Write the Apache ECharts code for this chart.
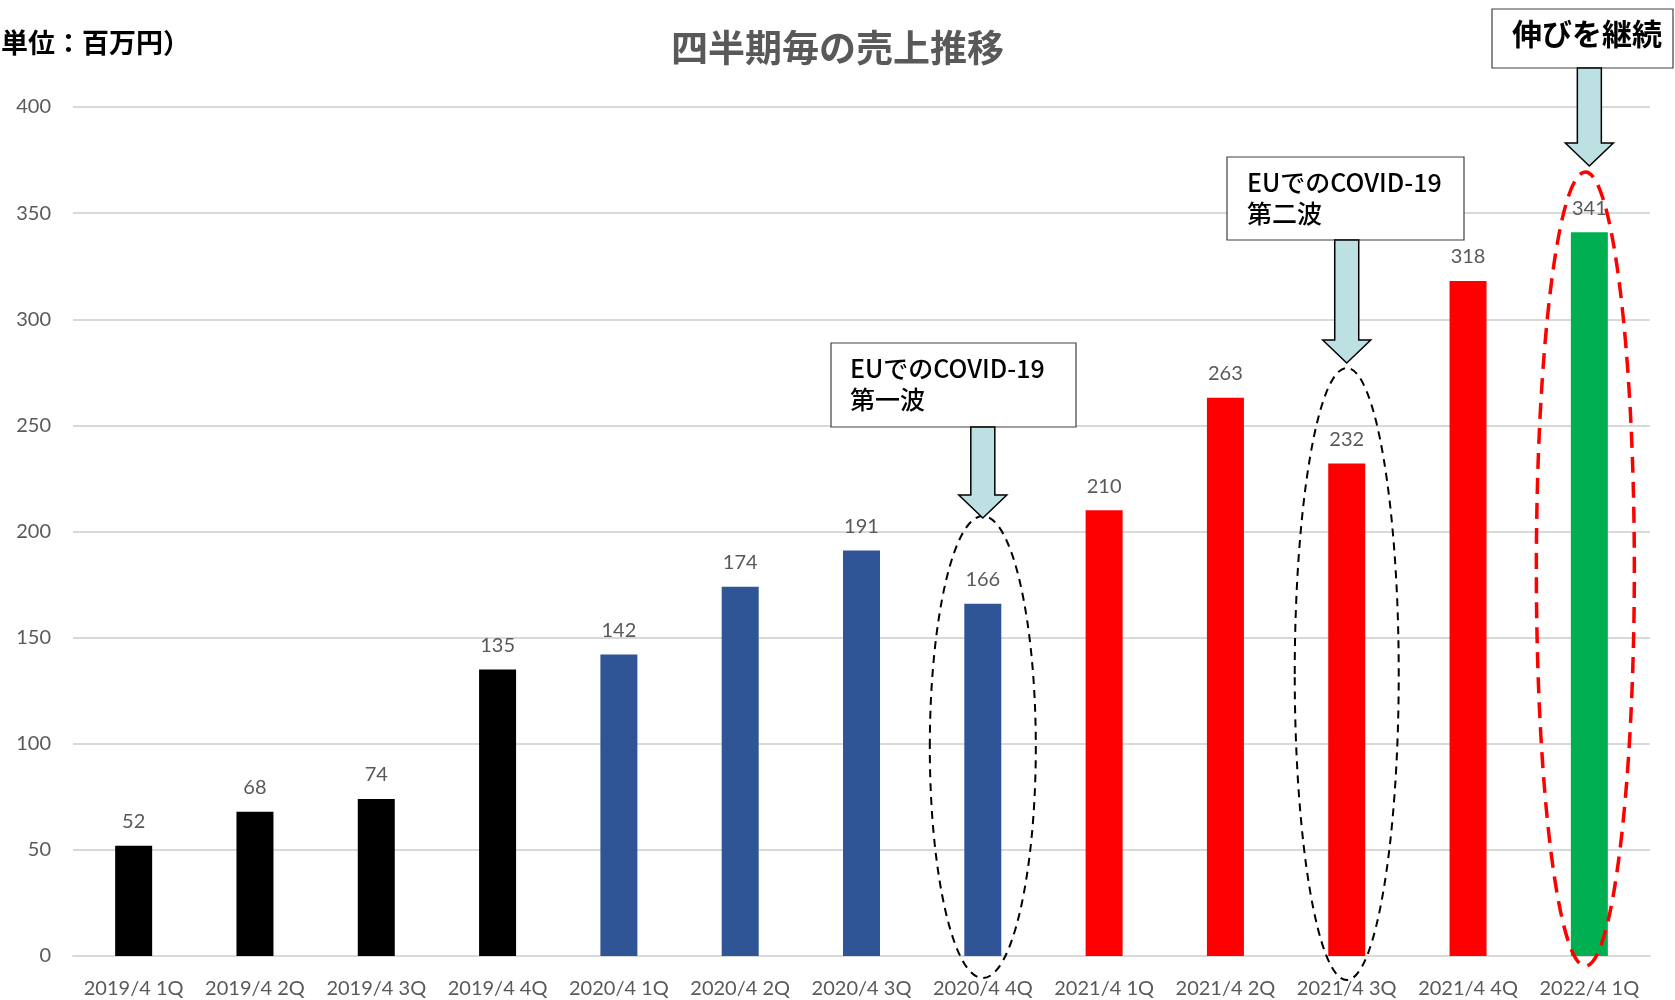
<!DOCTYPE html>
<html>
<head>
<meta charset="utf-8">
<script src="https://cdn.jsdelivr.net/npm/echarts@6/dist/echarts.min.js"></script>
<style>
  html, body { margin: 0; padding: 0; background: #ffffff; }
  #chart { width: 1675px; height: 1000px; }
</style>
</head>
<body>
<div id="chart"></div>
<script>
// Quarterly sales (million yen)
const categories = [
  '2019/4 1Q', '2019/4 2Q', '2019/4 3Q', '2019/4 4Q',
  '2020/4 1Q', '2020/4 2Q', '2020/4 3Q', '2020/4 4Q',
  '2021/4 1Q', '2021/4 2Q', '2021/4 3Q', '2021/4 4Q',
  '2022/4 1Q'
];
const sales = [52, 68, 74, 135, 142, 174, 191, 166, 210, 263, 232, 318, 341];
// Fiscal-year colour groups
const barColors = [
  '#000000', '#000000', '#000000', '#000000',
  '#2F5597', '#2F5597', '#2F5597', '#2F5597',
  '#FF0000', '#FF0000', '#FF0000', '#FF0000',
  '#00B050'
];
const yTicks = { min: 0, max: 400, interval: 50 };

const titleText = '四半期毎の売上推移';
const unitText = '単位：百万円）';
const wave1Text = 'EUでのCOVID-19\n第一波';
const wave2Text = 'EUでのCOVID-19\n第二波';
const growthText = '伸びを継続';

const numFont = 'Lato, "Open Sans", sans-serif';
const jpFont = '"Noto Sans CJK JP", sans-serif';

const chart = echarts.init(document.getElementById('chart'), null, { renderer: 'canvas' });

chart.setOption({
  animation: false,
  backgroundColor: '#ffffff',
  grid: { left: 73, right: 25, top: 107, bottom: 44, containLabel: false },
  xAxis: {
    type: 'category',
    data: categories,
    axisTick: { show: false },
    axisLine: { lineStyle: { color: '#d9d9d9', width: 2 } },
    axisLabel: { color: '#595959', fontSize: 20, fontFamily: numFont, margin: 23, interval: 0 }
  },
  yAxis: {
    type: 'value',
    min: yTicks.min, max: yTicks.max, interval: yTicks.interval,
    axisLine: { show: false },
    axisTick: { show: false },
    splitLine: { lineStyle: { color: '#d9d9d9', width: 2 } },
    axisLabel: { color: '#595959', fontSize: 20, fontFamily: numFont, margin: 22 }
  },
  series: [{
    type: 'bar',
    barWidth: 37,
    data: sales.map((v, i) => ({ value: v, itemStyle: { color: barColors[i] } })),
    label: {
      show: true, position: 'top', distance: 14,
      color: '#595959', fontSize: 20, fontFamily: numFont
    }
  }]
});

// Annotation overlays anchored on the category positions
function px(idx, val) { return chart.convertToPixel({ xAxisIndex: 0, yAxisIndex: 0 }, [idx, val]); }

function arrow(cx, yTop, yHeadStart, yTip) {
  const sw = 12, hw = 24;
  return {
    type: 'polygon', z: 20,
    shape: { points: [
      [cx - sw, yTop], [cx + sw, yTop], [cx + sw, yHeadStart], [cx + hw, yHeadStart],
      [cx, yTip], [cx - hw, yHeadStart], [cx - sw, yHeadStart]
    ] },
    style: { fill: '#BDE0E3', stroke: '#000000', lineWidth: 1.5 }
  };
}

function box(x, y, w, h) {
  return { type: 'rect', z: 20, shape: { x: x, y: y, width: w, height: h },
    style: { fill: '#ffffff', stroke: '#404040', lineWidth: 1.2 } };
}

const c7 = px(7, 0)[0], c10 = px(10, 0)[0], c12 = px(12, 0)[0];

chart.setOption({
  graphic: [
    { type: 'text', left: 'center', top: 29, z: 30,
      style: { text: titleText, fill: '#595959', font: 'bold 37px ' + jpFont } },
    { type: 'text', left: 1, top: 29, z: 30,
      style: { text: unitText, fill: '#000000', font: 'bold 27px ' + jpFont } },

    // first wave
    box(831, 343, 245, 84),
    { type: 'text', x: 850, y: 353, z: 21,
      style: { text: wave1Text, fill: '#000000', font: '500 25px ' + jpFont, lineHeight: 31 } },
    arrow(c7, 427, 495, 518),
    { type: 'ellipse', z: 15,
      shape: { cx: c7, cy: 747, rx: 53, ry: 231 },
      style: { fill: 'none', stroke: '#000000', lineWidth: 2, lineDash: [8, 6] } },

    // second wave
    box(1227, 157, 237, 83),
    { type: 'text', x: 1247, y: 167, z: 21,
      style: { text: wave2Text, fill: '#000000', font: '500 25px ' + jpFont, lineHeight: 31 } },
    arrow(c10, 240, 340, 363),
    { type: 'ellipse', z: 15,
      shape: { cx: c10, cy: 674, rx: 52, ry: 306 },
      style: { fill: 'none', stroke: '#000000', lineWidth: 2, lineDash: [8, 6] } },

    // continued growth
    box(1492, 9, 181, 59),
    { type: 'text', x: 1512, y: 19, z: 21,
      style: { text: growthText, fill: '#000000', font: 'bold 30px ' + jpFont } },
    arrow(c12, 68, 143, 166),
    { type: 'ellipse', z: 15,
      shape: { cx: c12 - 4, cy: 569, rx: 49, ry: 397 },
      style: { fill: 'none', stroke: '#FF0000', lineWidth: 3.5, lineDash: [16, 9] } }
  ]
});
</script>
</body>
</html>
